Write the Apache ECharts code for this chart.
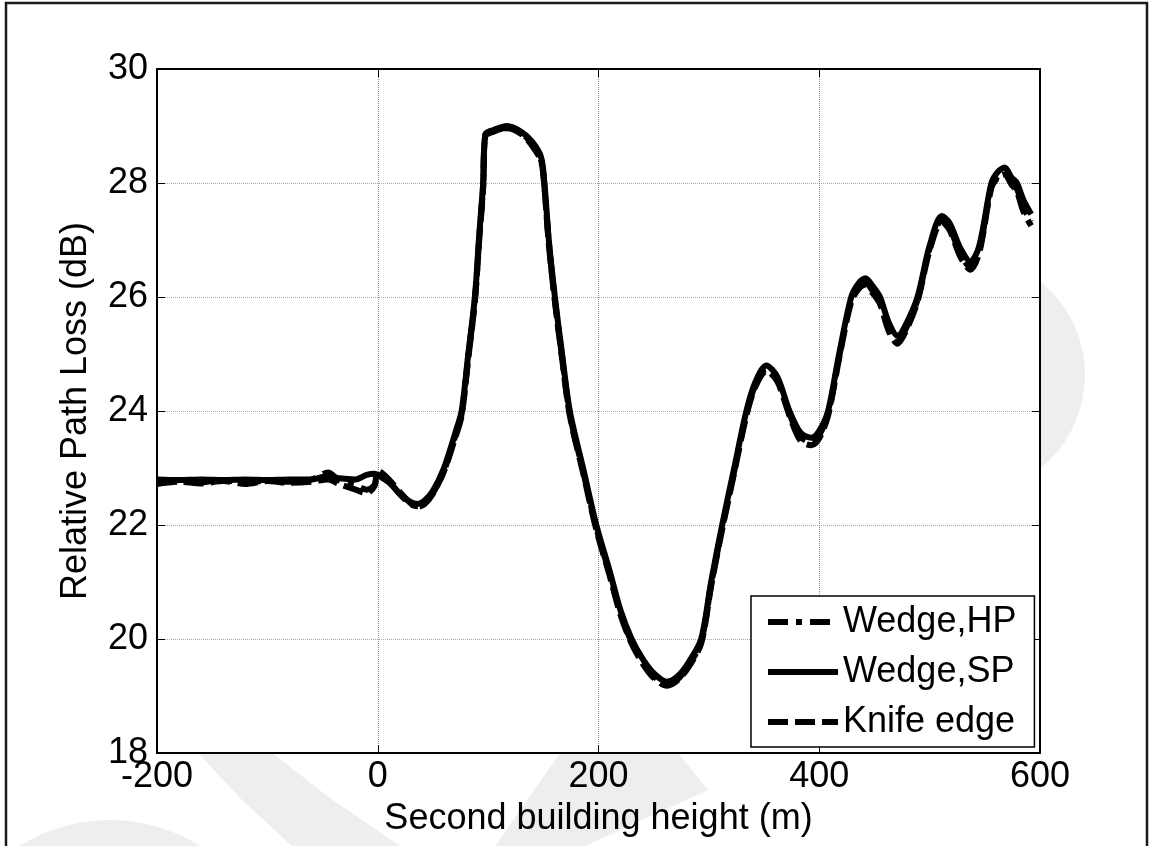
<!DOCTYPE html>
<html>
<head>
<meta charset="utf-8">
<script src="https://cdn.jsdelivr.net/npm/echarts@6/dist/echarts.min.js"></script>
<style>
  html, body { margin: 0; padding: 0; background: #fff; }
  #chart { width: 1152px; height: 846px; }
</style>
</head>
<body>
<div id="chart"></div>
<script>
// second building height (m)
const heights = [
  -200, -180, -160, -140, -120, -100, -80, -60, -45, -35,
  -20, -10, -3, 0, 10, 20, 30, 36, 42, 50,
  60, 70, 76, 82, 88, 92, 95.5, 97.5, 105, 117,
  130, 140, 148, 151, 155, 160.5, 167, 174, 186, 198,
  210, 220, 230, 240, 250, 262, 272, 282, 293, 302,
  312, 323, 334, 342, 352, 362, 373, 383, 393, 400,
  408, 418, 429, 436, 442, 448, 455, 463, 471, 478,
  489, 500, 511, 518, 528, 537, 545, 556, 562, 568,
  574, 579, 585, 592
];

// relative path loss (dB)
const wedgeHP = [
  22.74, 22.78, 22.75, 22.79, 22.74, 22.78, 22.76, 22.80, 22.92, 22.78,
  22.70, 22.62, 22.70, 22.85, 22.76, 22.54, 22.36, 22.33, 22.38, 22.56,
  22.95, 23.55, 23.95, 24.95, 25.95, 27.05, 27.95, 28.82, 28.90, 28.97,
  28.88, 28.68, 28.40, 27.95, 26.95, 25.95, 24.95, 23.95, 22.95, 21.95,
  21.15, 20.45, 19.95, 19.60, 19.35, 19.20, 19.30, 19.55, 19.95, 20.95,
  21.95, 22.95, 23.95, 24.45, 24.73, 24.55, 23.95, 23.55, 23.45, 23.58,
  23.95, 24.95, 25.95, 26.18, 26.25, 26.12, 25.92, 25.45, 25.22, 25.42,
  25.95, 26.85, 27.35, 27.22, 26.75, 26.52, 26.82, 27.95, 28.12, 28.18,
  28.02, 27.90, 27.58, 27.32
];
const wedgeSP = [
  22.80, 22.79, 22.80, 22.79, 22.80, 22.79, 22.80, 22.80, 22.86, 22.82,
  22.80, 22.88, 22.90, 22.88, 22.75, 22.55, 22.40, 22.37, 22.42, 22.60,
  23.00, 23.60, 24.00, 25.00, 26.00, 27.10, 28.00, 28.85, 28.93, 29.00,
  28.90, 28.72, 28.45, 28.00, 27.00, 26.00, 25.00, 24.00, 23.00, 22.00,
  21.20, 20.50, 20.00, 19.65, 19.40, 19.25, 19.35, 19.60, 20.00, 21.00,
  22.00, 23.00, 24.00, 24.50, 24.80, 24.60, 24.00, 23.62, 23.53, 23.65,
  24.00, 25.00, 26.00, 26.25, 26.33, 26.20, 26.00, 25.55, 25.32, 25.50,
  26.00, 26.90, 27.42, 27.30, 26.85, 26.62, 26.90, 28.00, 28.20, 28.27,
  28.10, 28.00, 27.70, 27.45
];
const knifeEdge = [
  22.72, 22.76, 22.73, 22.77, 22.72, 22.77, 22.74, 22.76, 22.80, 22.72,
  22.62, 22.56, 22.68, 22.96, 22.80, 22.58, 22.38, 22.32, 22.36, 22.55,
  22.94, 23.52, 23.92, 24.92, 25.92, 27.02, 27.92, 28.85, 28.92, 28.96,
  28.86, 28.65, 28.38, 27.92, 26.92, 25.92, 24.92, 23.92, 22.92, 21.92,
  21.12, 20.42, 19.92, 19.57, 19.32, 19.18, 19.28, 19.52, 19.92, 20.92,
  21.92, 22.92, 23.92, 24.42, 24.70, 24.52, 23.92, 23.48, 23.40, 23.52,
  23.92, 24.92, 25.92, 26.15, 26.22, 26.08, 25.88, 25.40, 25.18, 25.38,
  25.92, 26.82, 27.32, 27.18, 26.70, 26.48, 26.78, 27.92, 28.10, 28.15,
  27.98, 27.85, 27.50, 27.25
];

const seriesNames = ['Wedge,HP', 'Wedge,SP', 'Knife edge'];

const FONT = '"Liberation Sans", Arial, Helvetica, sans-serif';
const pairs = vals => heights.map((h, i) => [h, vals[i]]);

const chart = echarts.init(document.getElementById('chart'), null, { renderer: 'canvas' });

// faint watermark pieces, only visible in the figure margins
const wm = '#eeeeee';

const option = {
  backgroundColor: '#fff',
  animation: false,
  textStyle: { fontFamily: FONT },
  graphic: {
    elements: [
      { type: 'circle', shape: { cx: 110, cy: 990, r: 170 }, style: { fill: wm } },
      { type: 'circle', shape: { cx: 965, cy: 375, r: 120 }, style: { fill: wm } },
      { type: 'polygon', shape: { points: [[198, 753], [272, 753], [330, 798], [400, 846], [292, 846], [242, 800]] }, style: { fill: wm } },
      { type: 'polygon', shape: { points: [[560, 753], [678, 753], [708, 790], [585, 846], [495, 846]] }, style: { fill: wm } },
      { type: 'rect', shape: { x: 6, y: 3, width: 1141, height: 900 }, style: { fill: null, stroke: '#1a1a1a', lineWidth: 2.5 } }
    ]
  },
  grid: {
    left: 157, right: 112, top: 69, bottom: 93,
    show: true, backgroundColor: '#fff', borderWidth: 0, z: 3
  },
  legend: {
    data: seriesNames,
    z: 8,
    orient: 'vertical',
    left: 751, top: 596,
    padding: [8, 18, 7, 14],
    itemGap: 14,
    itemWidth: 70,
    itemHeight: 14,
    backgroundColor: '#fff',
    borderColor: '#000',
    borderWidth: 1.5,
    borderRadius: 0,
    itemStyle: { opacity: 0 },
    lineStyle: { width: 6 },
    textStyle: { fontFamily: FONT, fontSize: 36, color: '#000' }
  },
  xAxis: [
    {
      type: 'value', min: -200, max: 600, interval: 200, position: 'bottom', z: 4,
      name: 'Second building height (m)', nameLocation: 'middle', nameGap: 48,
      nameTextStyle: { fontFamily: FONT, fontSize: 36, color: '#000' },
      axisLine: { onZero: false, lineStyle: { color: '#000', width: 2 } },
      axisTick: { inside: true, length: 8, lineStyle: { color: '#000', width: 1 } },
      axisLabel: { fontFamily: FONT, fontSize: 36, color: '#000', margin: 6 },
      splitLine: { show: true, lineStyle: { color: '#8c8c8c', type: 'dotted', width: 1 } }
    },
    {
      type: 'value', min: -200, max: 600, interval: 200, position: 'top', z: 4,
      axisLine: { onZero: false, lineStyle: { color: '#000', width: 2 } },
      axisTick: { inside: true, length: 8, lineStyle: { color: '#000', width: 1 } },
      axisLabel: { show: false },
      splitLine: { show: false }
    }
  ],
  yAxis: [
    {
      type: 'value', min: 18, max: 30, interval: 2, position: 'left', z: 4,
      name: 'Relative Path Loss (dB)', nameLocation: 'middle', nameGap: 63,
      nameTextStyle: { fontFamily: FONT, fontSize: 36, color: '#000' },
      axisLine: { onZero: false, lineStyle: { color: '#000', width: 2 } },
      axisTick: { inside: true, length: 8, lineStyle: { color: '#000', width: 1 } },
      axisLabel: { fontFamily: FONT, fontSize: 36, color: '#000', margin: 9 },
      splitLine: { show: true, lineStyle: { color: '#a8a8a8', type: 'dotted', width: 1 } }
    },
    {
      type: 'value', min: 18, max: 30, interval: 2, position: 'right', z: 4,
      axisLine: { onZero: false, lineStyle: { color: '#000', width: 2 } },
      axisTick: { inside: true, length: 8, lineStyle: { color: '#000', width: 1 } },
      axisLabel: { show: false },
      splitLine: { show: false }
    }
  ],
  series: [
    {
      name: seriesNames[0], type: 'line', data: pairs(wedgeHP), z: 5,
      showSymbol: false, symbol: 'none', smooth: 0.3,
      lineStyle: { color: '#000', width: 6, type: [20, 8, 6, 8] },
      itemStyle: { color: '#000' }
    },
    {
      name: seriesNames[1], type: 'line', data: pairs(wedgeSP), z: 5,
      showSymbol: false, symbol: 'none', smooth: 0.3,
      lineStyle: { color: '#000', width: 6, type: 'solid' },
      itemStyle: { color: '#000' }
    },
    {
      name: seriesNames[2], type: 'line', data: pairs(knifeEdge), z: 5,
      showSymbol: false, symbol: 'none', smooth: 0.3,
      lineStyle: { color: '#000', width: 6, type: [20, 7] },
      itemStyle: { color: '#000' }
    }
  ]
};

chart.setOption(option);
</script>
</body>
</html>
